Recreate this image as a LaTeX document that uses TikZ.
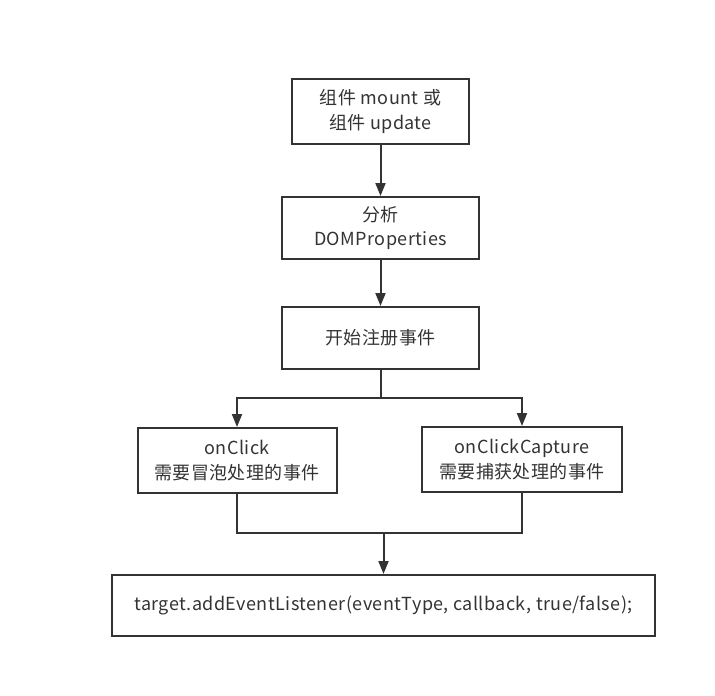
\documentclass[tikz,border=0pt]{standalone}
\usepackage{fontspec}
\setmainfont{Noto Sans CJK SC}[LetterSpace=2.4]
\usetikzlibrary{arrows.meta}
\definecolor{linegray}{HTML}{333333}
\begin{document}
\begin{tikzpicture}[x=1pt,y=-1pt,line width=2pt,draw=linegray,
	box/.style={draw=linegray,rectangle,inner sep=0pt,align=center,text=linegray,
		font=\fontsize{18}{24.5}\selectfont},
	flow/.style={-{Triangle[length=13pt,width=10pt]}}]
	\useasboundingbox (0,0) rectangle (715,696);
	% main column
	\node[box,minimum width=177pt,minimum height=65pt] (mount) at (380.5,111.5) {组件 mount 或\\组件 update};
	\node[box,minimum width=197pt,minimum height=62pt] (parse) at (380.5,228) {分析\\DOMProperties};
	\node[box,minimum width=197pt,minimum height=62pt] (register) at (380.5,338) {开始注册事件};
	% two kinds of events
	\node[box,minimum width=199pt,minimum height=65pt] (bubble) at (237,460.5) {onClick\\需要冒泡处理的事件};
	\node[box,minimum width=200pt,minimum height=65pt] (capture) at (522,459.5) {onClickCapture\\需要捕获处理的事件};
	% listener
	\node[box,minimum width=543pt,minimum height=61pt] (listen) at (383.5,605.5) {target.addEventListener(eventType, callback, true/false);};
	\coordinate (split) at (380.5,398);
	\coordinate (join) at (listen.north |- 0,533);
	\draw[flow] (mount) -- (parse);
	\draw[flow] (parse) -- (register);
	\draw (register) -- (split);
	\draw[flow] (split) -| (bubble);
	\draw[flow] (split) -| (capture);
	\draw (bubble) |- (join);
	\draw (capture) |- (join);
	\draw[flow] (join) -- (listen);
\end{tikzpicture}
\end{document}
